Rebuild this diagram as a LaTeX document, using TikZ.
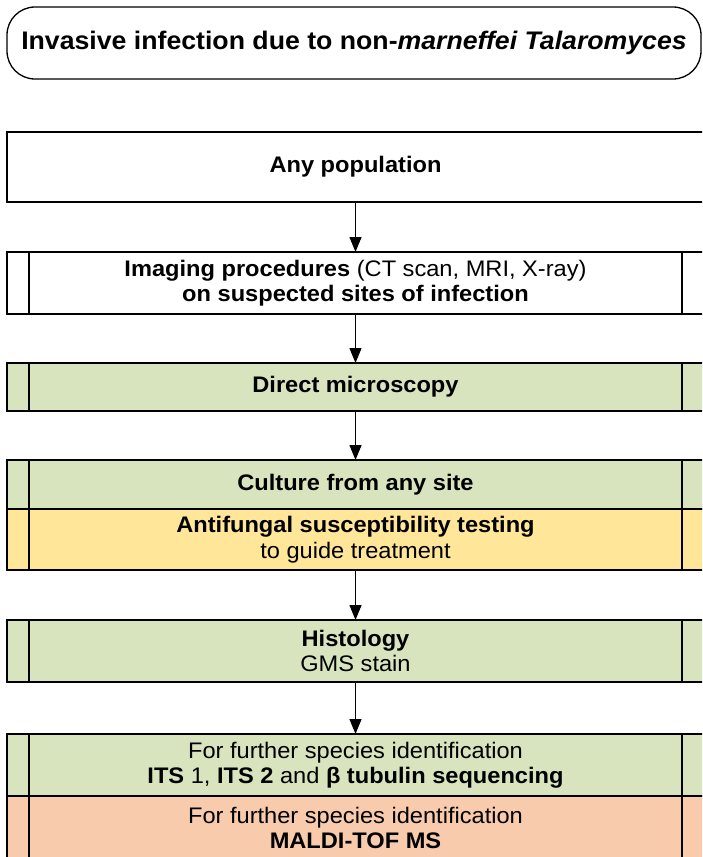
\documentclass[tikz,border=0pt]{standalone}
\usepackage{fontspec}
\setmainfont{Liberation Sans}[FakeStretch=1.05]
\usetikzlibrary{arrows.meta}
\definecolor{boxgreen}{HTML}{D7E4BD}
\definecolor{boxyellow}{HTML}{FFE699}
\definecolor{boxorange}{HTML}{F8CBAD}
\begin{document}
\begin{tikzpicture}[x=1pt,y=-1pt,
  box/.style={draw=black, line width=1.6pt, minimum width=697pt, inner sep=0pt, outer sep=0pt,
    align=center, font=\fontsize{22.5}{25.5}\selectfont},
  titlebox/.style={draw=black, line width=1.3pt, rounded corners=28pt, minimum width=694pt,
    minimum height=72pt, inner sep=0pt, outer sep=0pt, font=\fontsize{25.4}{28}\selectfont\bfseries},
  arr/.style={line width=1.3pt, -{Triangle[width=12pt,length=15pt]}},
  sideline/.style={line width=1.6pt}]
\useasboundingbox (0,0) rectangle (702,857);
\clip (0,0) rectangle (702,857);
\fill[white] (0,0) rectangle (702,857);

\node[titlebox] (t) at (354,43) {Invasive infection due to non-\textit{marneffei Talaromyces}};

\node[box, minimum height=70pt] (n1) at (355.5,167) {\textbf{Any population}};
\node[box, minimum height=62pt] (n2) at (355.5,283) {\textbf{Imaging procedures} (CT scan, MRI, X-ray)\\ \textbf{on suspected sites of infection}};
\node[box, fill=boxgreen, minimum height=48pt] (n3) at (355.5,387) {\textbf{Direct microscopy}};
\node[box, fill=boxgreen, minimum height=49pt] (n4) at (355.5,484.5) {\textbf{Culture from any site}};
\node[box, fill=boxyellow, minimum height=61pt] (n4b) at (355.5,539.5) {\textbf{Antifungal susceptibility testing}\\ to guide treatment};
\node[box, fill=boxgreen, minimum height=62pt] (n5) at (355.5,651) {\textbf{Histology}\\ GMS stain};
\node[box, fill=boxgreen, minimum height=62pt] (n6) at (355.5,765) {For further species identification\\ \textbf{ITS} 1, \textbf{ITS 2} and \textbf{β tubulin sequencing}};
\node[box, fill=boxorange, minimum height=64pt] (n6b) at (355.5,828) {For further species identification\\ \textbf{MALDI-TOF MS}};

\foreach \n in {n2,n3,n4,n4b,n5,n6,n6b}{
  \draw[sideline] ([xshift=22pt]\n.north west) -- ([xshift=22pt]\n.south west);
  \draw[sideline] ([xshift=-22pt]\n.north east) -- ([xshift=-22pt]\n.south east);
}

\draw[arr] (n1) -- (n2);
\draw[arr] (n2) -- (n3);
\draw[arr] (n3) -- (n4);
\draw[arr] (n4b) -- (n5);
\draw[arr] (n5) -- (n6);
\end{tikzpicture}
\end{document}
